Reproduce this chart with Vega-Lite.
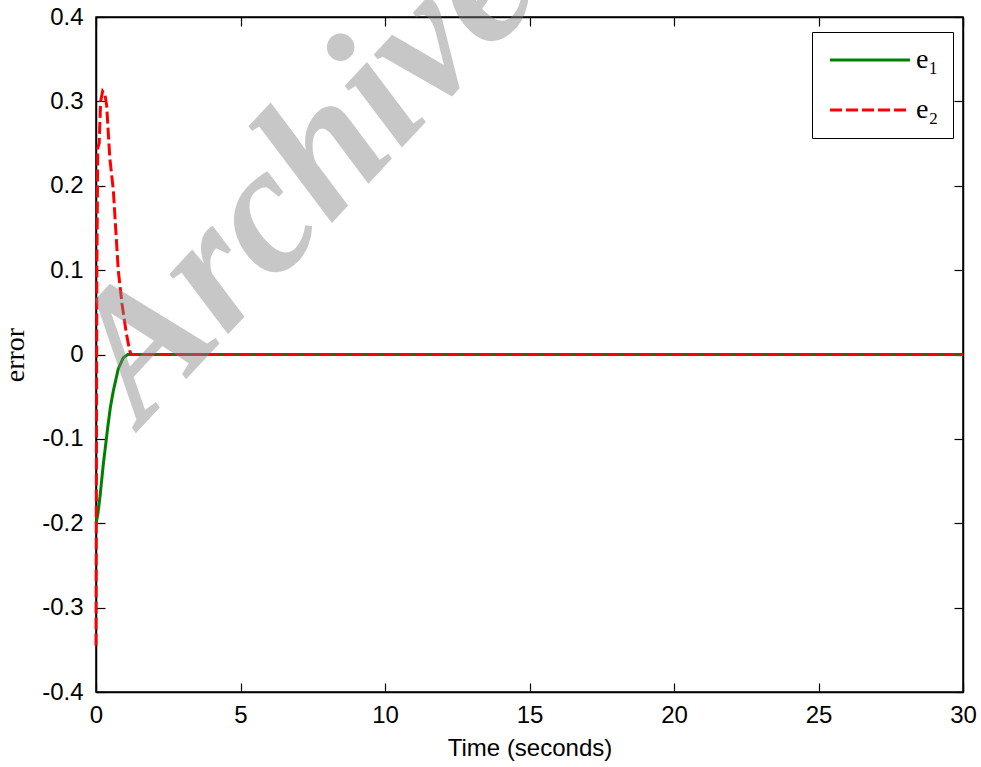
{
  "$schema": "https://vega.github.io/schema/vega-lite/v6.json",
  "width": 867,
  "height": 675,
  "autosize": "none",
  "padding": {"left": 96, "top": 17, "right": 18, "bottom": 75},
  "background": "white",
  "config": {
    "view": {"stroke": "black", "strokeWidth": 1.5},
    "axis": {
      "grid": false,
      "zindex": 1,
      "domainColor": "black",
      "domainWidth": 1.5,
      "tickColor": "black",
      "tickWidth": 1.2,
      "tickSize": -9,
      "labelFlush": false,
      "labelFont": "Liberation Sans",
      "labelFontSize": 24,
      "labelColor": "black",
      "titleColor": "black",
      "titleFontWeight": "normal"
    },
    "legend": {
      "orient": "none",
      "legendX": 716,
      "legendY": 15,
      "strokeColor": "black",
      "fillColor": "white",
      "padding": 14,
      "symbolType": "M-1,0L7,0",
      "symbolSize": 400,
      "symbolStrokeWidth": 3,
      "labelFont": "Liberation Serif",
      "labelFontSize": 28,
      "labelColor": "black",
      "labelOffset": 62,
      "rowPadding": 22
    }
  },
  "datasets": {
    "errors": [
      {"series": "e₁", "t": 0, "e": -0.2},
      {"series": "e₁", "t": 0.06, "e": -0.19},
      {"series": "e₁", "t": 0.14, "e": -0.168},
      {"series": "e₁", "t": 0.25, "e": -0.131},
      {"series": "e₁", "t": 0.4, "e": -0.088},
      {"series": "e₁", "t": 0.5, "e": -0.062},
      {"series": "e₁", "t": 0.6, "e": -0.043},
      {"series": "e₁", "t": 0.77, "e": -0.017},
      {"series": "e₁", "t": 0.94, "e": -0.004},
      {"series": "e₁", "t": 1.1, "e": 0},
      {"series": "e₁", "t": 30, "e": 0},
      {"series": "e₂", "t": 0, "e": -0.345},
      {"series": "e₂", "t": 0.03, "e": 0.1},
      {"series": "e₂", "t": 0.06, "e": 0.245},
      {"series": "e₂", "t": 0.11, "e": 0.25},
      {"series": "e₂", "t": 0.16, "e": 0.3},
      {"series": "e₂", "t": 0.23, "e": 0.312},
      {"series": "e₂", "t": 0.31, "e": 0.308},
      {"series": "e₂", "t": 0.37, "e": 0.295},
      {"series": "e₂", "t": 0.43, "e": 0.26},
      {"series": "e₂", "t": 0.48, "e": 0.232},
      {"series": "e₂", "t": 0.6, "e": 0.195},
      {"series": "e₂", "t": 0.68, "e": 0.15},
      {"series": "e₂", "t": 0.77, "e": 0.1},
      {"series": "e₂", "t": 0.9, "e": 0.06},
      {"series": "e₂", "t": 1.05, "e": 0.025},
      {"series": "e₂", "t": 1.17, "e": 0.004},
      {"series": "e₂", "t": 1.22, "e": 0},
      {"series": "e₂", "t": 30, "e": 0}
    ],
    "stamp": [
      {"t": 1.6, "e": -0.085, "label": "Archive"}
    ]
  },
  "resolve": {"axis": {"x": "independent", "y": "independent"}},
  "layer": [
    {
      "data": {"name": "errors"},
      "mark": {"type": "line", "strokeWidth": 3, "strokeCap": "butt", "interpolate": "linear"},
      "encoding": {
        "x": {
          "field": "t",
          "type": "quantitative",
          "scale": {"domain": [0, 30], "nice": false, "zero": false},
          "axis": {
            "orient": "bottom",
            "values": [0, 5, 10, 15, 20, 25, 30],
            "labelPadding": 20,
            "title": "Time (seconds)",
            "titleFont": "Liberation Sans",
            "titleFontSize": 24,
            "titlePadding": 9
          }
        },
        "y": {
          "field": "e",
          "type": "quantitative",
          "scale": {"domain": [-0.4, 0.4], "nice": false, "zero": false},
          "axis": {
            "orient": "left",
            "values": [-0.4, -0.3, -0.2, -0.1, 0, 0.1, 0.2, 0.3, 0.4],
            "labelExpr": "datum.value == 0 ? '0' : (datum.value < 0 ? '-' : '') + format(abs(datum.value), '.1f')",
            "labelPadding": 22,
            "title": "error",
            "titleFont": "Liberation Serif",
            "titleFontSize": 28,
            "titlePadding": 12
          }
        },
        "color": {
          "field": "series",
          "type": "nominal",
          "scale": {"domain": ["e₁", "e₂"], "range": ["#008000", "#ff0000"]},
          "legend": {"title": null}
        },
        "strokeDash": {
          "field": "series",
          "type": "nominal",
          "scale": {"domain": ["e₁", "e₂"], "range": [[1, 0], [12, 4]]},
          "legend": {"title": null}
        }
      }
    },
    {
      "data": {"name": "stamp"},
      "mark": {
        "type": "text",
        "font": "Liberation Serif",
        "fontStyle": "italic",
        "fontWeight": "bold",
        "fontSize": 183,
        "angle": 313,
        "align": "left",
        "baseline": "alphabetic",
        "fill": "#858585",
        "opacity": 0.45
      },
      "encoding": {
        "x": {
          "field": "t",
          "type": "quantitative",
          "axis": {"orient": "top", "values": [0, 5, 10, 15, 20, 25, 30], "labels": false, "title": null}
        },
        "y": {
          "field": "e",
          "type": "quantitative",
          "axis": {"orient": "right", "values": [-0.4, -0.3, -0.2, -0.1, 0, 0.1, 0.2, 0.3, 0.4], "labels": false, "title": null}
        },
        "text": {"field": "label"}
      }
    }
  ]
}
